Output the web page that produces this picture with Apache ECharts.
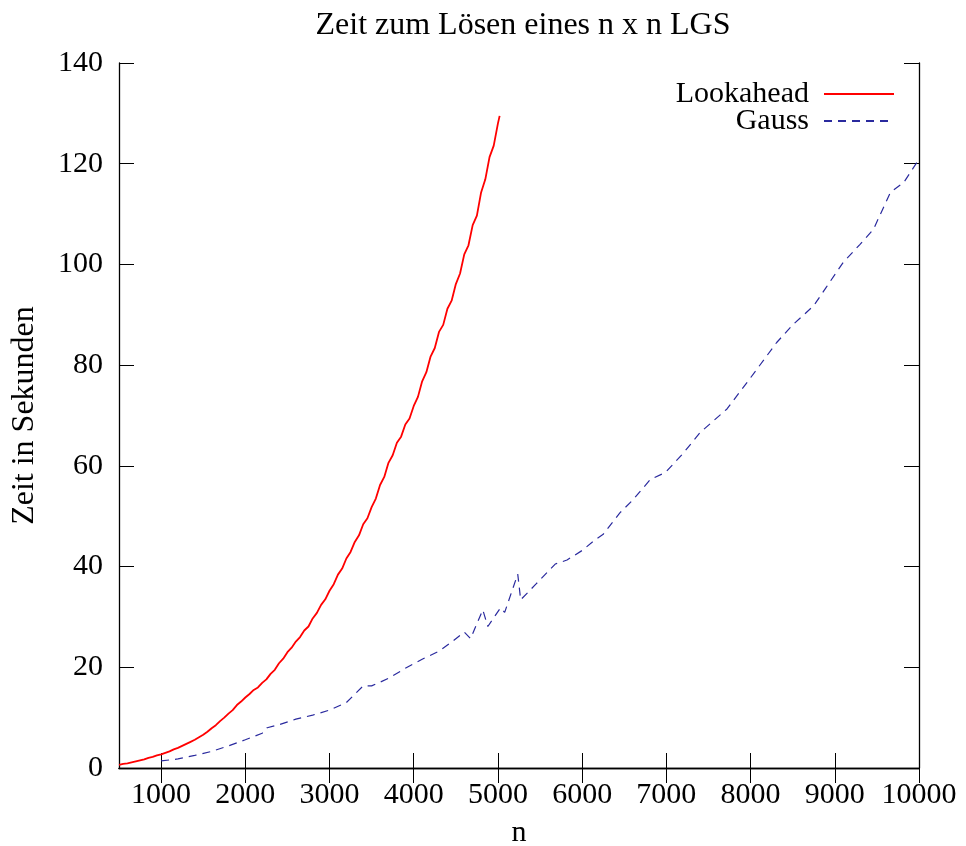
<!DOCTYPE html>
<html>
<head>
<meta charset="utf-8">
<script src="https://cdn.jsdelivr.net/npm/echarts@6/dist/echarts.min.js"></script>
<style>html,body{margin:0;padding:0;background:#fff;}#c{width:966px;height:846px;}</style>
</head>
<body>
<div id="c"></div>
<script>
// Lookahead: n values (step 50) and times in seconds
var lookN = [];
for (var k = 500; k <= 5000; k += 50) lookN.push(k);
lookN.push(5020);
var lookT = [
 0.6,0.8,0.9,1.1,1.3,1.5,1.7,2.0,2.2,2.5,2.7,
 3.0,3.3,3.7,4.0,4.4,4.8,5.2,5.6,6.1,6.6,
 7.2,7.9,8.5,9.3,10.0,10.8,11.5,12.5,13.2,14.0,
 14.7,15.5,16.0,16.9,17.6,18.7,19.5,20.8,21.7,23.0,
 23.9,25.1,26.0,27.3,28.1,29.7,30.8,32.4,33.5,35.2,
 36.5,38.4,39.6,41.6,42.9,44.9,46.2,48.4,49.6,51.8,
 53.5,56.2,57.8,60.6,62.1,64.6,65.8,68.2,69.4,71.9,
 73.7,76.8,78.6,81.7,83.4,86.6,88.0,91.2,92.8,96.1,
 98.2,102.0,103.8,107.8,109.7,114.3,116.9,121.3,123.6,128.0,129.5
];
// Gauss: n values and times in seconds
var gaussN = [1000,1200,1400,1600,1800,2000,2200,2260,2400,2600,2800,3000,3200,3400,3500,3700,3900,4100,4300,4450,4600,4675,4820,4880,5030,5080,5235,5270,5450,5680,5820,6000,6160,6250,6450,6600,6810,6990,7200,7400,7720,8000,8310,8500,8750,8900,9100,9300,9460,9660,9820,10000];
var gaussT = [1.4,1.8,2.5,3.3,4.4,5.6,6.9,8.0,8.6,9.7,10.5,11.5,13.0,16.3,16.3,17.8,19.8,21.6,23.2,25.0,27.0,25.7,31.4,28.1,31.8,30.9,38.5,33.4,36.5,40.5,41.3,43.2,45.4,46.4,50.7,53.2,57.3,58.7,62.5,66.6,71.3,77.5,84.5,88.0,91.8,95.5,100.4,104.0,107.0,114.3,116.3,120.9];
var xTicks = [1000,2000,3000,4000,5000,6000,7000,8000,9000,10000];
var seriesNames = ['Lookahead','Gauss'];
var titleText = 'Zeit zum Lösen eines n x n LGS';
var xName = 'n';
var yName = 'Zeit in Sekunden';

function pairs(a, b) { var r = []; for (var i = 0; i < a.length; i++) r.push([a[i], b[i]]); return r; }

var FONT = 'Liberation Serif';
var FS = 30;
var chart = echarts.init(document.getElementById('c'), null, {renderer: 'canvas'});
var axisLineStyle = {color: '#000', width: 1.3};
var tickStyle = {color: '#000', width: 1};
var plainFmt = function (v) { return String(v); };
chart.setOption({
  animation: false,
  backgroundColor: '#fff',
  title: {text: titleText, left: 518, textAlign: 'center', top: 5,
    textStyle: {fontFamily: FONT, fontSize: 32, fontWeight: 'normal', color: '#000'}},
  legend: {
    orient: 'vertical', right: 71, top: 79, align: 'right', itemWidth: 70, itemHeight: 10, itemGap: -3,
    padding: 0,
    itemStyle: {opacity: 0},
    textStyle: {fontFamily: FONT, fontSize: FS, color: '#000', lineHeight: 24, padding: [0, 10, 0, 0]},
    data: seriesNames
  },
  grid: {left: 119, right: 47, top: 63, bottom: 78, containLabel: false, outerBoundsMode: 'none'},
  xAxis: [{
    type: 'value', min: 500, max: 10000, position: 'bottom',
    name: xName, nameLocation: 'middle', nameGap: 50,
    nameTextStyle: {fontFamily: FONT, fontSize: FS, color: '#000'},
    axisLine: {show: true, lineStyle: axisLineStyle},
    axisTick: {show: true, inside: true, length: 15, lineStyle: tickStyle, customValues: xTicks},
    axisLabel: {fontFamily: FONT, fontSize: FS, color: '#000', margin: 12, customValues: xTicks, formatter: plainFmt},
    splitLine: {show: false}
  }, {
    type: 'value', min: 500, max: 10000, position: 'top',
    axisLine: {show: true, lineStyle: axisLineStyle},
    axisTick: {show: true, inside: true, length: 15, lineStyle: tickStyle, customValues: xTicks},
    axisLabel: {show: false},
    splitLine: {show: false}
  }],
  yAxis: [{
    type: 'value', min: 0, max: 140, interval: 20, position: 'left',
    name: yName, nameLocation: 'middle', nameGap: 78,
    nameTextStyle: {fontFamily: FONT, fontSize: 32, color: '#000'},
    axisLine: {show: true, lineStyle: axisLineStyle},
    axisTick: {show: true, inside: true, length: 15, lineStyle: tickStyle},
    axisLabel: {fontFamily: FONT, fontSize: FS, color: '#000', margin: 16, formatter: plainFmt},
    splitLine: {show: false}
  }, {
    type: 'value', min: 0, max: 140, interval: 20, position: 'right',
    axisLine: {show: true, lineStyle: axisLineStyle},
    axisTick: {show: true, inside: true, length: 15, lineStyle: tickStyle},
    axisLabel: {show: false},
    splitLine: {show: false}
  }],
  series: [{
    name: seriesNames[0], type: 'line', data: pairs(lookN, lookT),
    showSymbol: false, symbol: 'none', color: '#ff0000',
    lineStyle: {color: '#ff0000', width: 1.8}
  }, {
    name: seriesNames[1], type: 'line', data: pairs(gaussN, gaussT),
    showSymbol: false, symbol: 'none', color: '#2a2a9e',
    lineStyle: {color: '#2a2a9e', width: 1.2, type: [8, 6]}
  }]
});
</script>
</body>
</html>
